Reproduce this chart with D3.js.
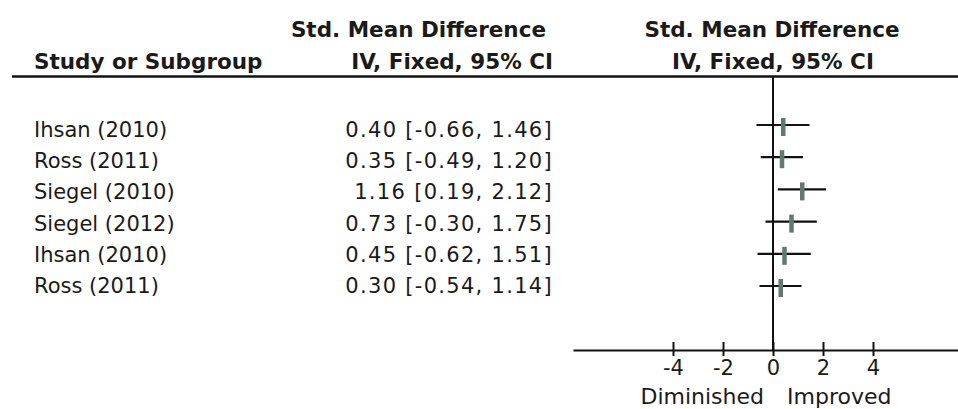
<!DOCTYPE html>
<html><head><meta charset="utf-8">
<script src="https://cdn.jsdelivr.net/npm/d3@7"></script>
<style>
html,body{margin:0;padding:0;background:#fff;}
svg text{font-family:"DejaVu Sans",sans-serif;fill:#1a1a1a;}
</style></head>
<body>
<script>
const studies = ["Ihsan (2010)","Ross (2011)","Siegel (2010)","Siegel (2012)","Ihsan (2010)","Ross (2011)"];
const smd   = [0.40, 0.35, 1.16, 0.73, 0.45, 0.30];
const lower = [-0.66, -0.49, 0.19, -0.30, -0.62, -0.54];
const upper = [1.46, 1.20, 2.12, 1.75, 1.51, 1.14];
const tickValues = [-4, -2, 0, 2, 4];
const axisDomain = [-8, 7.4];
const leftLabel = "Diminished", rightLabel = "Improved";

const W = 958, H = 409;
const svg = d3.select("body").append("svg").attr("width", W).attr("height", H);

const fmt = d3.format(".2f");
const f = v => fmt(v).replace("\u2212", "-");
const x = d3.scaleLinear().domain(axisDomain).range([573, 958]);
const yText = d3.scalePoint().domain(d3.range(studies.length)).range([137, 293]);
const yPlot = d3.scalePoint().domain(d3.range(studies.length)).range([125, 286]);

// headers
const hdr = svg.append("g").attr("font-weight", "bold").attr("font-size", 21.5);
hdr.append("text").attr("x", 34).attr("y", 69).text("Study or Subgroup");
hdr.append("text").attr("x", 546).attr("y", 37).attr("text-anchor", "end").text("Std. Mean Difference");
hdr.append("text").attr("x", 553).attr("y", 69).attr("text-anchor", "end").text("IV, Fixed, 95% CI");
hdr.append("text").attr("x", 772).attr("y", 37).attr("text-anchor", "middle").text("Std. Mean Difference");
hdr.append("text").attr("x", 773).attr("y", 69).attr("text-anchor", "middle").text("IV, Fixed, 95% CI");

svg.append("line").attr("x1", 12).attr("x2", W).attr("y1", 76.5).attr("y2", 76.5)
  .attr("stroke", "#111").attr("stroke-width", 2.5);

// rows text
const rows = svg.append("g").attr("font-size", 21);
rows.selectAll("text.study").data(studies).join("text").attr("class", "study")
  .attr("x", 34).attr("y", (d, i) => yText(i)).text(d => d);
rows.selectAll("text.est").data(smd).join("text").attr("class", "est")
  .attr("x", 553).attr("y", (d, i) => yText(i)).attr("text-anchor", "end")
  .attr("letter-spacing", 1.3)
  .text((d, i) => `${f(d)} [${f(lower[i])}, ${f(upper[i])}]`);

// zero line
svg.append("line").attr("x1", x(0)).attr("x2", x(0)).attr("y1", 77).attr("y2", 350)
  .attr("stroke", "#111").attr("stroke-width", 2);

// axis
const ax = svg.append("g").attr("transform", "translate(0,350)")
  .call(d3.axisBottom(x).tickValues(tickValues).tickSizeOuter(0).tickSizeInner(6).tickPadding(4).tickFormat(d => String(d)));
ax.select(".domain").attr("stroke", "#111").attr("stroke-width", 2);
ax.selectAll(".tick line").attr("y1", -8).attr("y2", 6).attr("stroke", "#111").attr("stroke-width", 2);
ax.selectAll(".tick text").attr("font-size", 21).attr("fill", "#1a1a1a").attr("font-family", "DejaVu Sans").attr("dy", null).attr("y", 25);

svg.append("text").attr("x", 764).attr("y", 404).attr("text-anchor", "end").attr("font-size", 22).text(leftLabel);
svg.append("text").attr("x", 787).attr("y", 404).attr("font-size", 22).text(rightLabel);

// CI lines and markers
const pts = svg.append("g");
pts.selectAll("line.ci").data(smd).join("line").attr("class", "ci")
  .attr("x1", (d, i) => x(lower[i])).attr("x2", (d, i) => x(upper[i]))
  .attr("y1", (d, i) => yPlot(i)).attr("y2", (d, i) => yPlot(i))
  .attr("stroke", "#111").attr("stroke-width", 2.2);
pts.selectAll("rect.m").data(smd).join("rect").attr("class", "m")
  .attr("x", d => x(d) - 2).attr("width", 4.5)
  .attr("y", (d, i) => yPlot(i) - 7).attr("height", 18)
  .attr("fill", "#62796c");
</script>
</body></html>
